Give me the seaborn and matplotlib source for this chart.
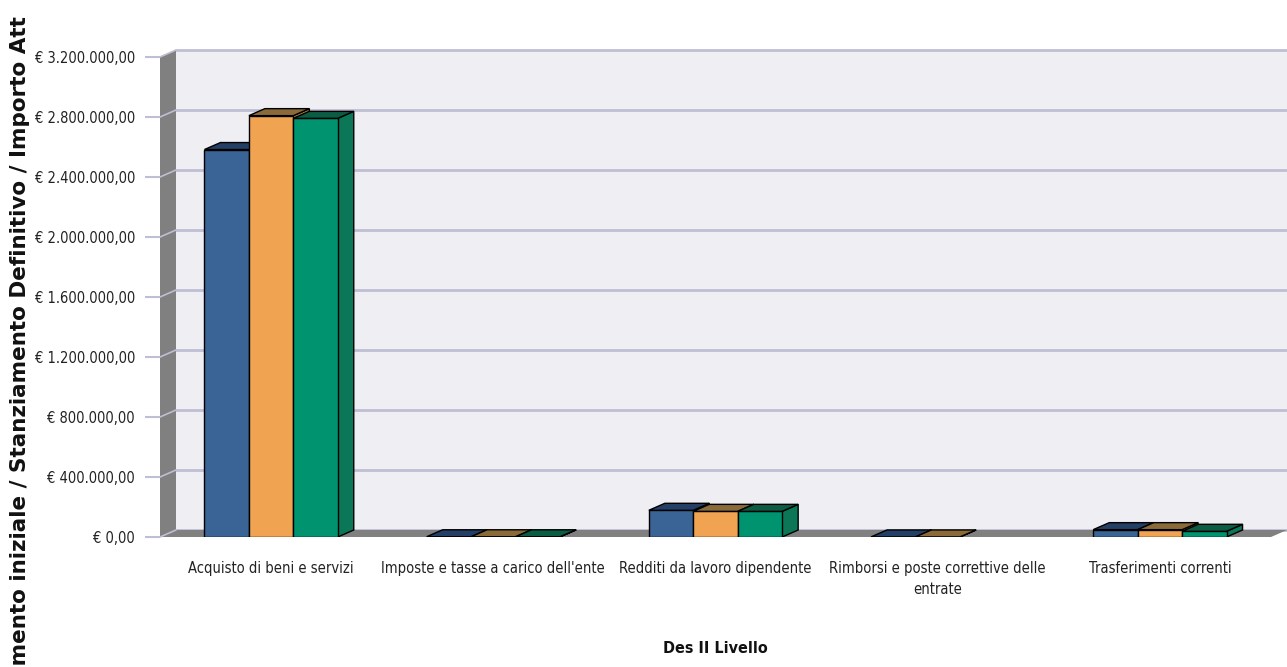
import numpy as np
import pandas as pd
import seaborn as sns
import matplotlib.pyplot as plt
from matplotlib.patches import Polygon, Rectangle
from matplotlib.ticker import FuncFormatter
from matplotlib.transforms import Bbox

# data
categorie = ["Acquisto di beni e servizi",
             "Imposte e tasse a carico dell'ente",
             "Redditi da lavoro dipendente",
             "Rimborsi e poste correttive delle\nentrate",
             "Trasferimenti correnti"]
serie = ["Stanziamento iniziale", "Stanziamento Definitivo", "Importo Attuale"]
stanz_iniziale = [2583000, 1500, 178000, 500, 49000]
stanz_definitivo = [2809000, 1500, 171000, 500, 49000]
importo_attuale = [2791000, 1500, 171000, np.nan, 38000]

colori = ["#3A6496", "#F0A452", "#00936F"]
colori_top = ["#233F66", "#8A6A38", "#0C5B43"]
colori_lato = ["#2B4C76", "#B07A3A", "#0B7757"]
y_ticks = [0, 400000, 800000, 1200000, 1600000, 2000000, 2400000, 2800000, 3200000]
y_titolo = "Stanziamento iniziale / Stanziamento Definitivo / Importo Attuale"

df = pd.DataFrame({
    "Des II Livello": categorie * 3,
    "serie": np.repeat(serie, len(categorie)),
    "valore": stanz_iniziale + stanz_definitivo + importo_attuale,
})

sns.set_theme(style="white")
plt.rcParams['font.family'] = ['DejaVu Sans']
plt.rcParams['font.stretch'] = 'condensed'

W, H = 1287, 667
fig = plt.figure(figsize=(W / 100, H / 100), dpi=100)
ax_l, ax_b, ax_w, ax_h = 160 / W, 130 / H, 1111 / W, 480 / H
ax = fig.add_axes([ax_l, ax_b, ax_w, ax_h])
ax.set_facecolor("none")

sns.barplot(data=df, x="Des II Livello", y="valore", hue="serie",
            palette=colori, width=0.6, ax=ax, legend=False,
            edgecolor="black", linewidth=1, saturation=1)

x0, x1 = -0.5, len(categorie) - 0.5
ymax = y_ticks[-1]
ax.set_xlim(x0, x1)
ax.set_ylim(0, ymax)

# 3D depth offset, pixels -> data units
dx = 16 * (x1 - x0) / 1111
dy = 7 * ymax / 480

grid_col = "#BEBED4"
wall_col = "#EEEEF3"
side_col = "#808080"

# back wall
ax.add_patch(Rectangle((x0 + dx, dy), x1 - x0, ymax, facecolor=wall_col,
                       edgecolor="none", zorder=0, clip_on=False))
for t in y_ticks:
    ax.plot([x0 + dx, x1 + dx], [t + dy, t + dy], color=grid_col, lw=2,
            zorder=0.2, clip_on=False)
# left wall and floor
ax.add_patch(Polygon([(x0, 0), (x0, ymax), (x0 + dx, ymax + dy), (x0 + dx, dy)],
                     facecolor=side_col, edgecolor="none", zorder=0.5, clip_on=False))
ax.add_patch(Polygon([(x0, 0), (x1, 0), (x1 + dx, dy), (x0 + dx, dy)],
                     facecolor=side_col, edgecolor="none", zorder=0.5, clip_on=False))
for t in y_ticks:
    ax.plot([x0, x0 + dx], [t, t + dy], color=grid_col, lw=1.2,
            zorder=0.6, clip_on=False)

# 3D faces for bars
bars = [p for p in ax.patches if isinstance(p, Rectangle) and p.get_width() < 1
        and p.get_zorder() < 10]
bars = [b for b in bars if b.get_x() > x0 and b.get_x() < x1]
n = len(categorie)
bars_info = [(b, i // n) for i, b in enumerate(bars)]
bars_info.sort(key=lambda t: t[0].get_x())
for k, (b, s) in enumerate(bars_info):
    h = b.get_height()
    if not np.isfinite(h):
        b.set_visible(False)
        continue
    bx, bw = b.get_x(), b.get_width()
    z = 2 + 3 * k
    ax.add_patch(Polygon([(bx + bw, 0), (bx + bw + dx, dy), (bx + bw + dx, h + dy), (bx + bw, h)],
                         facecolor=colori_lato[s], edgecolor="black", lw=1, zorder=z))
    b.set_zorder(z + 1)
    ax.add_patch(Polygon([(bx, h), (bx + bw, h), (bx + bw + dx, h + dy), (bx + dx, h + dy)],
                         facecolor=colori_top[s], edgecolor="black", lw=1, zorder=z + 2))

ax.set_yticks(y_ticks)
ax.yaxis.set_major_formatter(FuncFormatter(
    lambda v, p: "€ " + f"{v:,.2f}".replace(",", "X").replace(".", ",").replace("X", ".")))
ax.tick_params(axis="y", length=11, width=1.5, color=grid_col, labelsize=10.5,
               labelcolor="#222222", pad=7, left=True)
ax.tick_params(axis="x", length=0, labelsize=10.5, labelcolor="#222222", pad=17)
for lab in ax.get_xticklabels():
    lab.set_linespacing(1.5)
sns.despine(ax=ax, left=True, bottom=True)

ax.set_ylabel("")
ax.set_xlabel("Des II Livello", fontsize=11.5, fontweight="bold", labelpad=32,
              color="#111111")

# y title: the reference shows it cut off at both ends
renderer = fig.canvas.get_renderer()
props = dict(rotation=90, fontweight="bold", family="DejaVu Sans", fontstretch="normal")
def lunghezza(s, size):
    t = fig.text(0, 0, s, fontsize=size, **props)
    e = t.get_window_extent(renderer).height
    t.remove()
    return e
fine = y_titolo.index("Att") + 3
visibile = y_titolo[7:fine]
size = 10 * 650 / lunghezza(visibile, 10)
pre = lunghezza(y_titolo[:7], size)
base = 2 - pre
yt = fig.text(20 / W, base / H, y_titolo, ha="center", va="bottom",
              fontsize=size, color="#111111", **props)
yt.set_clip_on(True)
yt.set_clip_box(Bbox.from_extents(0, 0, W, base + lunghezza(y_titolo[:fine], size) - 1))

fig.savefig("out.png", dpi=100)
